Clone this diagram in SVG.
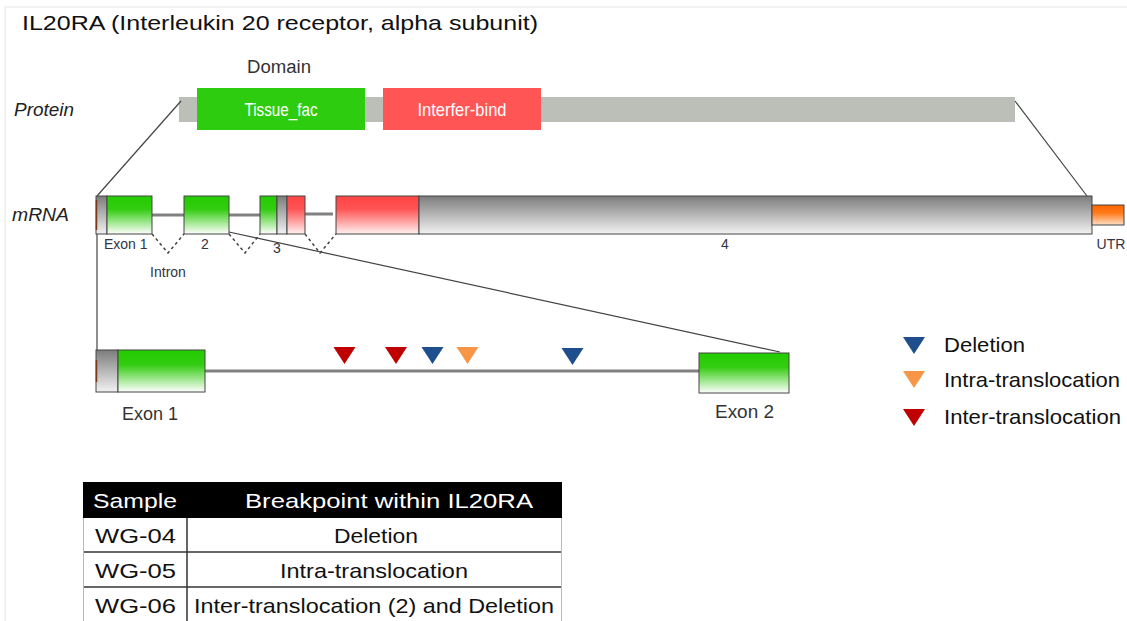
<svg xmlns="http://www.w3.org/2000/svg" width="1127" height="621" viewBox="0 0 1127 621">
  <defs>
    <linearGradient id="gGreen" x1="0" y1="0" x2="0" y2="1">
      <stop offset="0" stop-color="#22cc00"/>
      <stop offset="0.35" stop-color="#33cc11"/>
      <stop offset="1" stop-color="#ffffff"/>
    </linearGradient>
    <linearGradient id="gRed" x1="0" y1="0" x2="0" y2="1">
      <stop offset="0" stop-color="#ff4444"/>
      <stop offset="0.35" stop-color="#ff5555"/>
      <stop offset="1" stop-color="#fff2f2"/>
    </linearGradient>
    <linearGradient id="gGray" x1="0" y1="0" x2="0" y2="1">
      <stop offset="0" stop-color="#7c7c7c"/>
      <stop offset="1" stop-color="#f2f2f2"/>
    </linearGradient>
    <linearGradient id="gOrange" x1="0" y1="0" x2="0" y2="1">
      <stop offset="0" stop-color="#ff6600"/>
      <stop offset="0.4" stop-color="#ff7a1a"/>
      <stop offset="1" stop-color="#ffe0c8"/>
    </linearGradient>
    <path id="tri" d="M-11,0 L11,0 L0,17 Z"/>
  </defs>
  <style>
    text { font-family: "Liberation Sans", Arial, sans-serif; fill: #222; }
    .title { font-size: 21px; fill: #111; }
    .track { font-size: 18px; font-style: italic; fill: #222; }
    .small { font-size: 14px; fill: #333344; }
    .mid { font-size: 18px; fill: #333; }
    .dom { font-size: 18px; fill: #ffffff; }
    .leg { font-size: 21px; fill: #111; }
    .cell { font-size: 21px; fill: #111; }
    .head { font-size: 21px; fill: #ffffff; }
    .box { stroke: #444; stroke-width: 1; }
    .intron { stroke: #808080; stroke-width: 3; fill: none; }
    .splice { stroke: #444; stroke-width: 1.5; stroke-dasharray: 3 3; fill: none; }
    .zoom { stroke: #444; stroke-width: 1.2; fill: none; }
    .grid { stroke: #333; stroke-width: 1.5; }
  </style>

  <rect width="1127" height="621" fill="#ffffff"/>
  <!-- panel frame -->
  <path d="M5,621 V7 H1127" fill="none" stroke="#e4e4e4" stroke-width="1"/>

  <text class="title" x="22" y="30" textLength="516" lengthAdjust="spacingAndGlyphs">IL20RA (Interleukin 20 receptor, alpha subunit)</text>

  <!-- protein track -->
  <g id="protein">
    <text class="track" x="14" y="116" textLength="60" lengthAdjust="spacingAndGlyphs">Protein</text>
    <text class="mid" x="247" y="73" fill="#222" textLength="64" lengthAdjust="spacingAndGlyphs">Domain</text>
    <rect x="179" y="97" width="836" height="25" fill="#bcbfb8"/>
    <g id="dom-tissue">
      <rect x="197" y="88" width="168" height="42" fill="#2ecc0f"/>
      <text class="dom" x="281" y="116" text-anchor="middle" textLength="73" lengthAdjust="spacingAndGlyphs">Tissue_fac</text>
    </g>
    <g id="dom-interfer">
      <rect x="383" y="88" width="158" height="42" fill="#ff5555"/>
      <text class="dom" x="462" y="116" text-anchor="middle" textLength="89" lengthAdjust="spacingAndGlyphs">Interfer-bind</text>
    </g>
  </g>

  <!-- mRNA track -->
  <g id="mrna">
    <text class="track" x="12" y="221" textLength="57" lengthAdjust="spacingAndGlyphs">mRNA</text>
    <line class="intron" x1="152" y1="215" x2="184" y2="215"/>
    <line class="intron" x1="229" y1="215" x2="260" y2="215"/>
    <line class="intron" x1="305" y1="214" x2="333" y2="214"/>
    <g id="exon1">
      <rect x="96" y="196" width="11" height="38" fill="url(#gGray)" class="box"/>
      <rect x="107" y="196" width="45" height="38" fill="url(#gGreen)" class="box"/>
      <line x1="96.5" y1="200" x2="96.5" y2="230" stroke="#7a3a1a" stroke-width="1.5"/>
    </g>
    <g id="exon2">
      <rect x="184" y="196" width="45" height="38" fill="url(#gGreen)" class="box"/>
    </g>
    <g id="exon3">
      <rect x="260" y="196" width="17" height="38" fill="url(#gGreen)" class="box"/>
      <rect x="277" y="196" width="10" height="38" fill="url(#gGray)" class="box"/>
      <rect x="287" y="196" width="18" height="38" fill="url(#gRed)" class="box"/>
    </g>
    <g id="exon4">
      <rect x="336" y="196" width="83" height="38" fill="url(#gRed)" class="box"/>
      <rect x="419" y="196" width="673" height="38" fill="url(#gGray)" class="box"/>
    </g>
    <g id="utr">
      <rect x="1092" y="205" width="32" height="20" fill="url(#gOrange)" class="box"/>
      <text class="small" x="1111" y="249" text-anchor="middle">UTR</text>
    </g>
    <text class="small" x="104" y="249">Exon 1</text>
    <text class="small" x="205" y="249" text-anchor="middle">2</text>
    <text class="small" x="277" y="253" text-anchor="middle">3</text>
    <text class="small" x="725" y="249" text-anchor="middle">4</text>
    <text class="small" x="168" y="277" text-anchor="middle">Intron</text>
  </g>

  <!-- exon 1 - exon 2 detail -->
  <g id="detail">
    <line class="intron" x1="205" y1="371" x2="699" y2="371"/>
    <g id="d-exon1">
      <rect x="96" y="350" width="22" height="42" fill="url(#gGray)" class="box"/>
      <rect x="118" y="350" width="87" height="42" fill="url(#gGreen)" class="box"/>
      <line x1="96.5" y1="360" x2="96.5" y2="382" stroke="#7a3a1a" stroke-width="1.5"/>
      <text class="mid" x="122" y="420" textLength="56" lengthAdjust="spacingAndGlyphs">Exon 1</text>
    </g>
    <g id="d-exon2">
      <rect x="699" y="353" width="90" height="40" fill="url(#gGreen)" class="box"/>
      <text class="mid" x="715" y="418" textLength="59" lengthAdjust="spacingAndGlyphs">Exon 2</text>
    </g>
    <g id="breakpoints">
      <use href="#tri" x="344.5" y="347" fill="#c00000"/>
      <use href="#tri" x="396" y="347" fill="#c00000"/>
      <use href="#tri" x="432.5" y="347" fill="#1f4e8c"/>
      <use href="#tri" x="467.5" y="347" fill="#f79646"/>
      <use href="#tri" x="572.5" y="348" fill="#1f4e8c"/>
    </g>
  </g>

  <!-- connectors -->
  <g id="connectors">
    <line class="zoom" x1="181" y1="101" x2="97" y2="196"/>
    <line class="zoom" x1="1015" y1="101" x2="1087" y2="196"/>
    <line class="zoom" x1="97" y1="234" x2="97" y2="350"/>
    <line class="zoom" x1="229" y1="232" x2="780" y2="352"/>
    <polyline class="splice" points="152,234 168,253 184,234"/>
    <polyline class="splice" points="229,234 245,253 260,234"/>
    <polyline class="splice" points="305,234 320,253 336,234"/>
  </g>

  <!-- legend -->
  <g id="legend">
    <g id="leg-deletion">
      <use href="#tri" x="914" y="337" fill="#1f4e8c"/>
      <text class="leg" x="944" y="352" textLength="81" lengthAdjust="spacingAndGlyphs">Deletion</text>
    </g>
    <g id="leg-intra">
      <use href="#tri" x="914" y="371" fill="#f79646"/>
      <text class="leg" x="944" y="387" textLength="176" lengthAdjust="spacingAndGlyphs">Intra-translocation</text>
    </g>
    <g id="leg-inter">
      <use href="#tri" x="914" y="409" fill="#c00000"/>
      <text class="leg" x="944" y="424" textLength="177" lengthAdjust="spacingAndGlyphs">Inter-translocation</text>
    </g>
  </g>

  <!-- sample table -->
  <g id="table">
    <rect x="83" y="482" width="479" height="36" fill="#000000"/>
    <text class="head" x="93" y="508" textLength="84" lengthAdjust="spacingAndGlyphs">Sample</text>
    <text class="head" x="245" y="508" textLength="288" lengthAdjust="spacingAndGlyphs">Breakpoint within IL20RA</text>
    <line class="grid" x1="83" y1="552" x2="562" y2="552"/>
    <line class="grid" x1="83" y1="587" x2="562" y2="587"/>
    <line class="grid" x1="187" y1="518" x2="187" y2="621"/>
    <line x1="83.5" y1="518" x2="83.5" y2="621" stroke="#bbbbbb" stroke-width="1"/>
    <line x1="561.5" y1="518" x2="561.5" y2="621" stroke="#bbbbbb" stroke-width="1"/>
    <text class="cell" x="95" y="543" textLength="81" lengthAdjust="spacingAndGlyphs">WG-04</text>
    <text class="cell" x="334" y="543" textLength="84" lengthAdjust="spacingAndGlyphs">Deletion</text>
    <text class="cell" x="95" y="578" textLength="81" lengthAdjust="spacingAndGlyphs">WG-05</text>
    <text class="cell" x="280" y="578" textLength="188" lengthAdjust="spacingAndGlyphs">Intra-translocation</text>
    <text class="cell" x="95" y="613" textLength="81" lengthAdjust="spacingAndGlyphs">WG-06</text>
    <text class="cell" x="194" y="613" textLength="360" lengthAdjust="spacingAndGlyphs">Inter-translocation (2) and Deletion</text>
  </g>
</svg>
